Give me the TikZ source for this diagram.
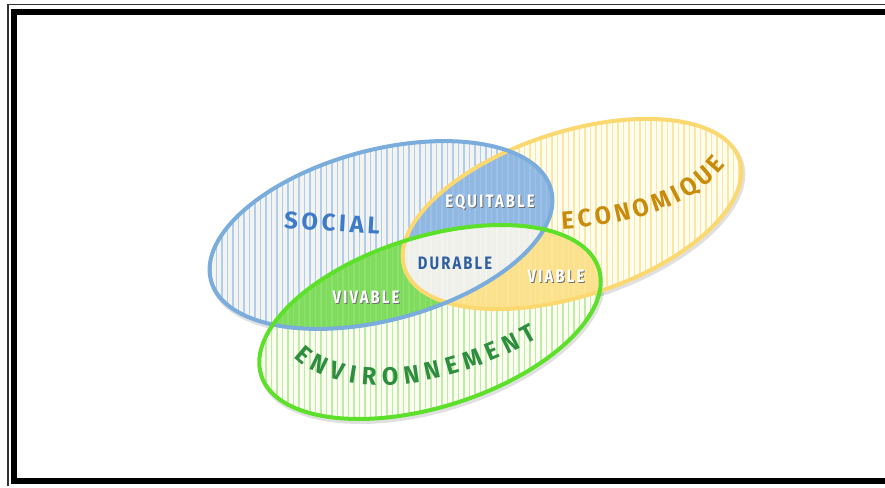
\documentclass[tikz,border=0pt]{standalone}
\usepackage{fontspec}
\usepackage{tikz}
\usetikzlibrary{positioning, decorations.text}
\newfontfamily\vennfont{Fira Sans}[FakeStretch=0.82, LetterSpace=12]
\newfontfamily\vennwide{Fira Sans}[LetterSpace=15]
\newfontfamily\venncurve{Fira Sans}[FakeStretch=0.95]
\definecolor{socline}{RGB}{122,172,220}
\definecolor{socfill}{RGB}{243,244,239}
\definecolor{socstripe}{RGB}{176,204,238}
\definecolor{ecoline}{RGB}{252,217,112}
\definecolor{ecofill}{RGB}{255,253,240}
\definecolor{ecostripe}{RGB}{250,232,160}
\definecolor{envline}{RGB}{92,224,42}
\definecolor{envfill}{RGB}{251,253,240}
\definecolor{envstripe}{RGB}{190,236,168}
\definecolor{equifill}{RGB}{144,184,226}
\definecolor{vivfill}{RGB}{127,220,92}
\definecolor{viafill}{RGB}{252,225,140}
\definecolor{durfill}{RGB}{238,240,233}
\definecolor{soctext}{RGB}{61,123,201}
\definecolor{ecotext}{RGB}{201,139,12}
\definecolor{envtext}{RGB}{45,143,61}
\definecolor{durtext}{RGB}{47,95,158}
\tikzstyle{ring}=[%
      line width=4pt
]
\tikzstyle{lbl}=[%
      font=\vennfont\bfseries\fontsize{18}{18}\selectfont, inner sep=0pt
]
% the three sets
\newcommand{\ellsoc}{(381,235) ellipse [x radius=176pt, y radius=85pt, rotate=15]}
\newcommand{\elleco}{(572,214) ellipse [x radius=176pt, y radius=82pt, rotate=18]}
\newcommand{\ellenv}{(430,322) ellipse [x radius=177pt, y radius=85pt, rotate=17.5]}
\newcommand{\vstripes}[1]{%
  \foreach \sx in {200,205.5,...,760} \draw[#1, line width=1.4pt] (\sx,100) -- (\sx,430);}

\begin{document}
\begin{tikzpicture}[x=1pt, y=-1pt,
    shade/.style={lbl, black!55},
    halo/.style={line width=5pt, black, opacity=.12, shift={(1.5,2.5)}},
    curved/.style={decorate, decoration={text along path, text align=fit to path, text color=#1}},
]
    \useasboundingbox (0,0) rectangle (885,487);
    % frame
    \draw[line width=1.6pt, black!80] (885,4.5) -| (8,486);
    \draw[line width=6pt] (885,12) -| (13.5,481) -- (885,481);

    % soft shadows
    \draw[halo] \elleco;
    \draw[halo] \ellsoc;
    \draw[halo] \ellenv;

    % plain sets
    \begin{scope}
      \clip \ellsoc; \fill[socfill] \ellsoc; \vstripes{socstripe}
    \end{scope}
    \begin{scope}
      \clip \elleco; \fill[ecofill] \elleco; \vstripes{ecostripe}
    \end{scope}
    \begin{scope}
      \clip \ellenv; \fill[envfill] \ellenv; \vstripes{envstripe}
    \end{scope}

    % overlaps
    \begin{scope}
      \clip \ellsoc; \clip \elleco;
      \fill[equifill] (200,100) rectangle (760,430); \vstripes{white, opacity=.12}
    \end{scope}
    \begin{scope}
      \clip \ellsoc; \clip \ellenv;
      \fill[vivfill] (200,100) rectangle (760,430); \vstripes{white, opacity=.12}
    \end{scope}
    \begin{scope}
      \clip \elleco; \clip \ellenv;
      \fill[viafill] (200,100) rectangle (760,430); \vstripes{white, opacity=.12}
    \end{scope}
    \begin{scope}
      \clip \ellsoc; \clip \elleco; \clip \ellenv;
      \fill[durfill] (200,100) rectangle (760,430); \vstripes{white, opacity=.3}
    \end{scope}

    % outlines
    \draw[ring, ecoline] \elleco;
    \draw[ring, socline] \ellsoc;
    \draw[ring, envline] \ellenv;

    % labels
    \node[inner sep=0pt, soctext, rotate=-3, font=\vennwide\bfseries\fontsize{24}{24}\selectfont] (social) at (332,223) {SOCIAL};
    \node[shade] (equi-s) at (491,203) {EQUITABLE};
    \node[lbl, white] (equi) at (490,202) {EQUITABLE};
    \node[lbl, durtext] (durable) at (455,263) {DURABLE};
    \node[shade] (viv-s) at (367,298) {VIVABLE};
    \node[lbl, white] (vivable) at (366,297) {VIVABLE};
    \node[shade] (via-s) at (557,277) {VIABLE};
    \node[lbl, white] (viable) at (556,276) {VIABLE};

    \path[curved=ecotext, decoration={text={|\venncurve\bfseries\fontsize{25}{25}\selectfont|ECONOMIQUE}}]
      (562,229) .. controls (625,225) and (690,210) .. (726,165);
    \path[curved=envtext, decoration={text={|\venncurve\bfseries\fontsize{25}{25}\selectfont|ENVIRONNEMENT}}]
      (294,357) .. controls (330,394) and (425,402) .. (538,338);
\end{tikzpicture}
\end{document}
